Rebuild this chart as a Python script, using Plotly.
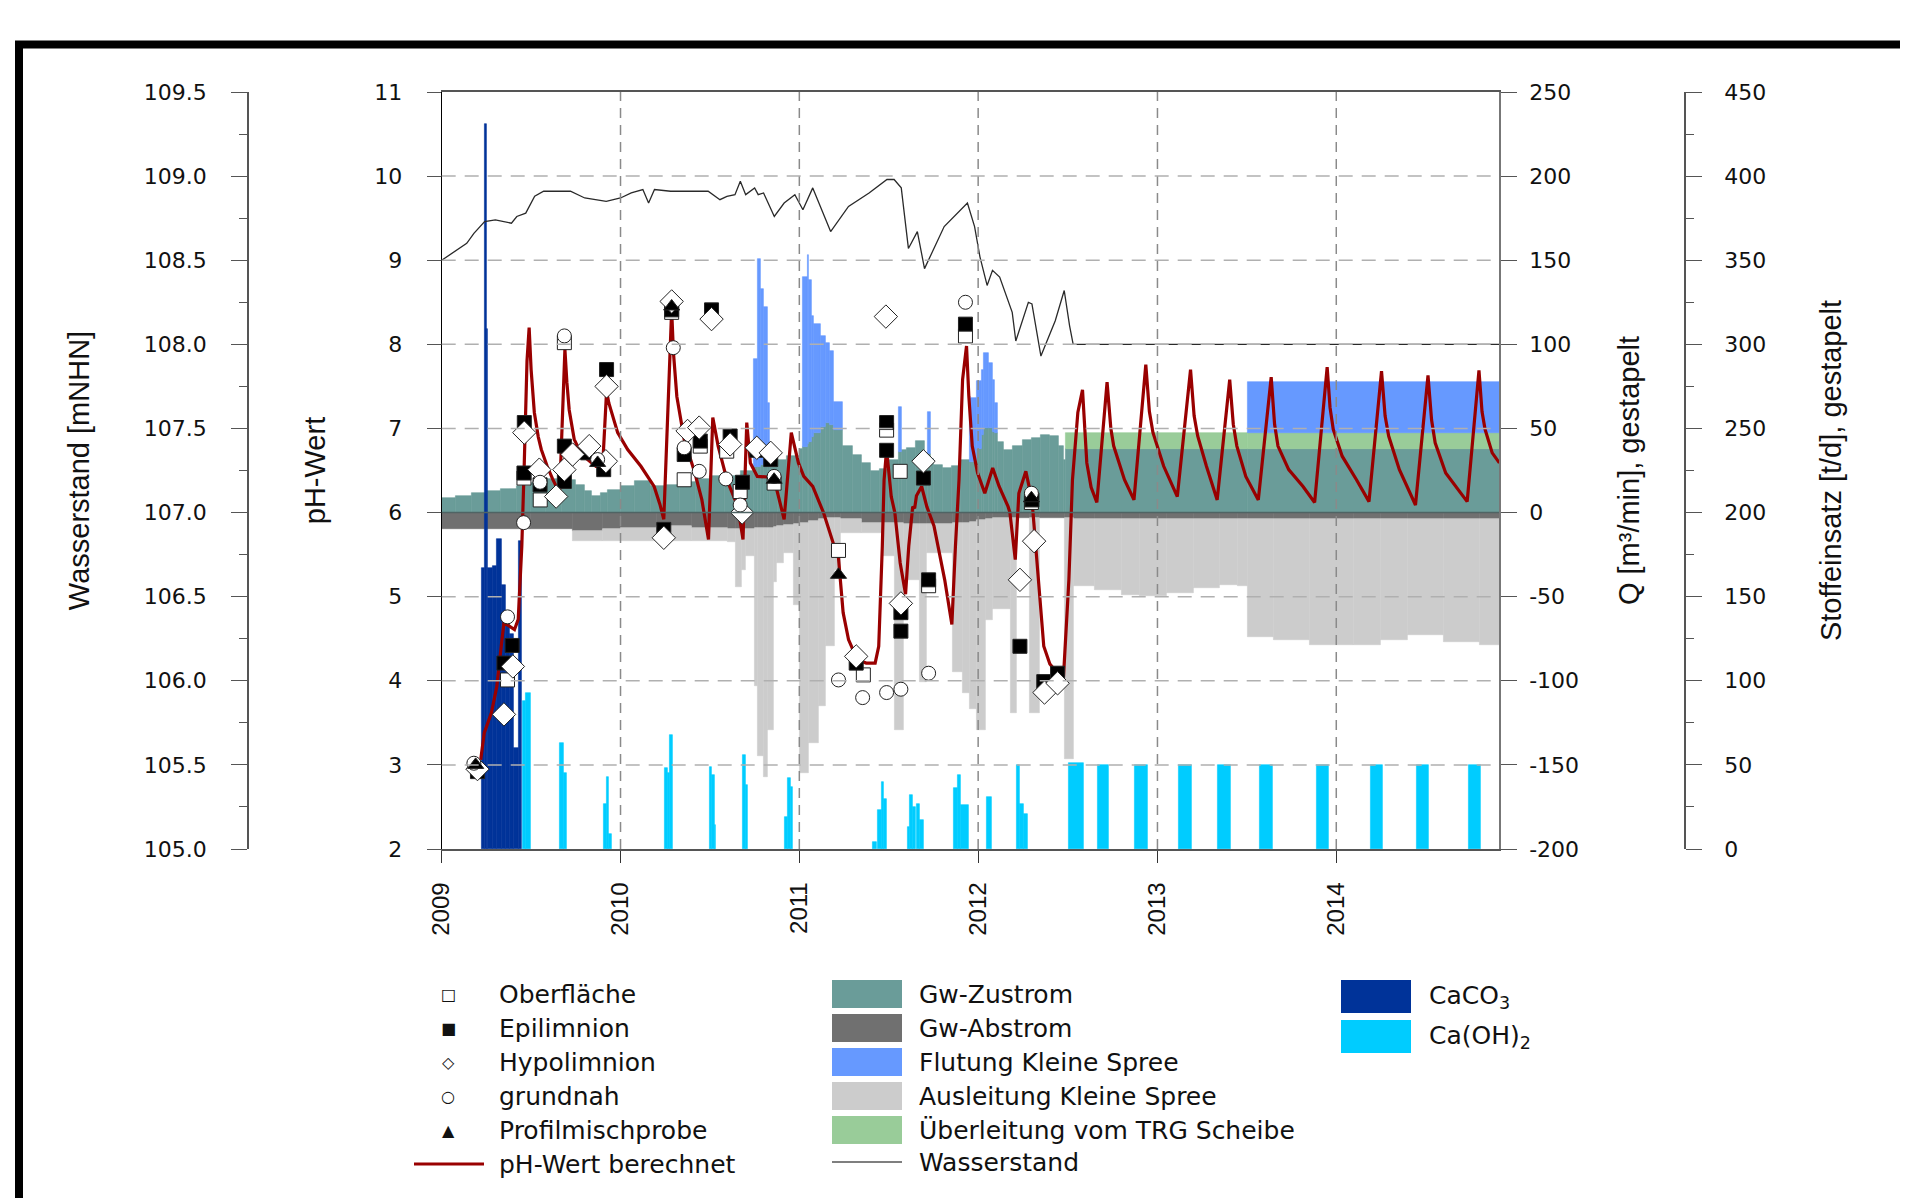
import datetime as dt
import plotly.graph_objects as go

# ---------------- data (decimal years) ----------------
T_END = 2014.92
years = [2009, 2010, 2011, 2012, 2013, 2014]

# Q, positive side (stacked): segments start at q_pos_t, end at next start
q_pos_t = [2009.00, 2009.08, 2009.17, 2009.25, 2009.33, 2009.42, 2009.50, 2009.58, 2009.67, 2009.75,
           2009.80, 2009.84, 2009.89, 2009.93, 2010.00, 2010.08, 2010.17, 2010.25, 2010.33, 2010.42,
           2010.50, 2010.58, 2010.67, 2010.745, 2010.765, 2010.785, 2010.80, 2010.825, 2010.835, 2010.88,
           2010.93, 2011.00, 2011.02, 2011.045, 2011.055, 2011.07, 2011.08, 2011.12, 2011.145, 2011.17,
           2011.19, 2011.24, 2011.30, 2011.35, 2011.40, 2011.45, 2011.50, 2011.555, 2011.57, 2011.60,
           2011.65, 2011.70, 2011.72, 2011.735, 2011.75, 2011.80, 2011.85, 2011.90, 2011.95, 2011.99,
           2012.02, 2012.03, 2012.06, 2012.08, 2012.09, 2012.11, 2012.14, 2012.19, 2012.25, 2012.30,
           2012.35, 2012.40, 2012.45, 2012.476, 2012.49, 2013.505]
gw_zustrom = [8.7, 10.0, 11.5, 12.7, 14.0, 16.0, 17.6, 20.0, 19.5, 16.5,
              13.0, 10.0, 11.5, 13.7, 15.6, 18.6, 16.0, 16.5, 18.0, 20.0,
              21.6, 22.0, 24.5, 27, 27, 28, 28, 29, 30, 31.5,
              33.5, 37.5, 39, 41, 42, 45, 47, 51, 53, 52,
              49, 39.4, 34.5, 29.5, 24.6, 25.6, 31.5, 36, 37, 38.4,
              42.4, 35.5, 35, 32, 28.5, 26.6, 27.5, 31.5, 30, 38,
              46, 50, 50, 48, 47, 42, 37, 39.4, 43.4, 44.4,
              46.4, 45.4, 39.4, 31.5, 37.5, 37.5]
ueberleitung = [0] * 74 + [10, 10]
flutung = [0] * 23 + [64, 124, 105, 94, 36, 0, 0,
                      0, 0, 101, 112, 96, 72, 65, 54, 48, 44,
                      17, 0, 0, 0, 0, 0, 0, 27, 0, 0,
                      0, 0, 25, 0, 0, 0, 0, 0, 38, 40,
                      39, 45, 39, 31, 18, 0, 0, 0, 0, 0,
                      0, 0, 0, 0, 0, 30]

# Q, negative side (stacked downwards)
q_neg_t = [2009.00, 2009.25, 2009.50, 2009.733, 2009.90, 2010.00, 2010.20, 2010.40, 2010.60, 2010.645,
           2010.675, 2010.70, 2010.75, 2010.765, 2010.80, 2010.825, 2010.855, 2010.875, 2010.915, 2010.97,
           2011.00, 2011.05, 2011.11, 2011.15, 2011.20, 2011.23, 2011.35, 2011.47, 2011.535, 2011.585,
           2011.675, 2011.715, 2011.855, 2011.915, 2011.95, 2011.99, 2012.04, 2012.08, 2012.18, 2012.215,
           2012.29, 2012.345, 2012.48, 2012.535, 2012.65, 2012.80, 2012.90, 2013.05, 2013.20, 2013.35,
           2013.45, 2013.505, 2013.65, 2013.85, 2014.10, 2014.25, 2014.40, 2014.60, 2014.80]
gw_abstrom = [10, 10, 9.5, 11, 10, 9, 8, 9, 10, 10,
              10, 9.5, 9, 9, 9, 9, 8.5, 8, 7.5, 7,
              6, 5, 4, 3.5, 3.2, 4, 6, 6, 6.5, 7,
              7, 7, 6, 6, 5.5, 4.5, 4, 3.5, 3.2, 3.2,
              3.2, 3.2, 3.5, 3.8, 3.8, 3.8, 3.8, 3.8, 3.8, 3.8,
              3.8, 3.8, 3.8, 3.8, 3.8, 3.8, 3.8, 3.8, 3.8]
ausleitung = [0, 0, 0, 6, 7, 8, 9, 8, 7.5, 34,
              24, 16.5, 94, 136, 148, 120, 33, 22, 16.5, 48,
              149, 132, 111, 76, 31, 8, 6, 20, 122.5, 33,
              94, 17, 89, 101, 111.5, 124.5, 60, 54, 116, 0,
              116, 0, 143, 40, 42, 45, 46, 44, 41, 39,
              40, 70, 72, 75, 75, 72, 69, 73, 75]

# Stoffeinsatz [t/d]
caco3_start = [2009.222, 2009.238, 2009.250, 2009.258, 2009.287, 2009.308, 2009.334, 2009.358, 2009.378, 2009.402, 2009.428]
caco3_end = [2009.238, 2009.250, 2009.258, 2009.287, 2009.308, 2009.334, 2009.358, 2009.378, 2009.402, 2009.428, 2009.448]
caco3 = [167, 431, 309, 167, 168, 184, 157, 140, 128, 60, 183]

caoh2_start = [2009.455, 2009.471, 2009.661, 2009.681, 2009.907, 2009.921, 2009.935, 2010.249, 2010.265, 2010.277,
               2010.496, 2010.511, 2010.525, 2010.685, 2010.699, 2010.919, 2010.935, 2010.949, 2011.410, 2011.439,
               2011.458, 2011.474, 2011.604, 2011.618, 2011.634, 2011.657, 2011.673, 2011.866, 2011.885, 2011.905,
               2012.047, 2012.216, 2012.233, 2012.255, 2012.506, 2012.668, 2012.875, 2013.120, 2013.339, 2013.574,
               2013.889, 2014.190, 2014.448, 2014.738]
caoh2_end = [2009.471, 2009.497, 2009.681, 2009.700, 2009.921, 2009.935, 2009.952, 2010.265, 2010.277, 2010.293,
             2010.511, 2010.525, 2010.535, 2010.699, 2010.713, 2010.935, 2010.949, 2010.962, 2011.430, 2011.458,
             2011.474, 2011.490, 2011.618, 2011.634, 2011.648, 2011.673, 2011.693, 2011.885, 2011.905, 2011.945,
             2012.076, 2012.233, 2012.255, 2012.277, 2012.586, 2012.730, 2012.945, 2013.193, 2013.410, 2013.644,
             2013.960, 2014.259, 2014.518, 2014.808]
caoh2 = [88, 93, 63, 45, 27, 43, 9, 48, 45, 68,
         49, 44, 14, 56, 38, 19, 42, 37, 4, 23,
         40, 30, 13, 32, 25, 27, 17, 36, 44, 26,
         31, 50, 27, 21, 51, 50, 50, 50, 50, 50,
         50, 50, 50, 50]

# Wasserstand [mNHN]
ws_t = [2009.00, 2009.08, 2009.14, 2009.18, 2009.24, 2009.30, 2009.39, 2009.42, 2009.47, 2009.52,
        2009.57, 2009.72, 2009.80, 2009.92, 2010.00, 2010.06, 2010.125, 2010.157, 2010.19, 2010.28,
        2010.49, 2010.556, 2010.595, 2010.64, 2010.67, 2010.70, 2010.75, 2010.77, 2010.80, 2010.86,
        2010.915, 2010.975, 2011.02, 2011.075, 2011.175, 2011.275, 2011.39, 2011.49, 2011.53, 2011.57,
        2011.61, 2011.66, 2011.70, 2011.81, 2011.94, 2011.98, 2012.01, 2012.05, 2012.08, 2012.12,
        2012.19, 2012.21, 2012.28, 2012.30, 2012.35, 2012.43, 2012.48, 2012.51, 2012.53, 2014.92]
ws = [108.50, 108.56, 108.60, 108.66, 108.73, 108.74, 108.72, 108.76, 108.78, 108.88,
      108.91, 108.91, 108.87, 108.85, 108.87, 108.90, 108.92, 108.84, 108.92, 108.91,
      108.91, 108.86, 108.88, 108.89, 108.97, 108.89, 108.93, 108.89, 108.90, 108.76,
      108.84, 108.89, 108.80, 108.93, 108.67, 108.82, 108.90, 108.98, 108.98, 108.93,
      108.57, 108.67, 108.45, 108.70, 108.84, 108.70, 108.52, 108.35, 108.44, 108.40,
      108.19, 108.02, 108.25, 108.24, 107.93, 108.14, 108.32, 108.11, 108.00, 108.00]

# pH-Wert berechnet
ph_calc_t = [2009.218, 2009.238, 2009.278, 2009.308, 2009.337, 2009.348, 2009.378, 2009.407, 2009.428, 2009.448,
             2009.462, 2009.477, 2009.489, 2009.500, 2009.518, 2009.540, 2009.557, 2009.590, 2009.620, 2009.650,
             2009.660, 2009.689, 2009.700, 2009.713, 2009.741, 2009.780, 2009.816, 2009.863, 2009.900, 2009.922,
             2009.935, 2009.946, 2009.984, 2010.040, 2010.114, 2010.188, 2010.220, 2010.242, 2010.286, 2010.296,
             2010.315, 2010.356, 2010.416, 2010.455, 2010.492, 2010.516, 2010.546, 2010.595, 2010.656, 2010.685,
             2010.706, 2010.726, 2010.765, 2010.845, 2010.874, 2010.915, 2010.955, 2010.995, 2011.025, 2011.075,
             2011.135, 2011.195, 2011.215, 2011.245, 2011.275, 2011.324, 2011.374, 2011.424, 2011.444, 2011.464,
             2011.474, 2011.488, 2011.514, 2011.534, 2011.564, 2011.594, 2011.612, 2011.634, 2011.645, 2011.655,
             2011.684, 2011.713, 2011.753, 2011.813, 2011.853, 2011.873, 2011.893, 2011.913, 2011.935, 2011.948,
             2011.967, 2011.997, 2012.037, 2012.081, 2012.117, 2012.167, 2012.177, 2012.207, 2012.227, 2012.266,
             2012.296, 2012.306, 2012.336, 2012.366, 2012.400, 2012.426, 2012.476, 2012.506, 2012.526, 2012.556,
             2012.582, 2012.606, 2012.630, 2012.662, 2012.719, 2012.740, 2012.756, 2012.816, 2012.869, 2012.935,
             2012.955, 2012.975, 2013.035, 2013.111, 2013.185, 2013.205, 2013.225, 2013.274, 2013.334, 2013.404,
             2013.424, 2013.444, 2013.494, 2013.564, 2013.636, 2013.655, 2013.674, 2013.734, 2013.814, 2013.879,
             2013.949, 2013.965, 2013.983, 2014.033, 2014.113, 2014.183, 2014.253, 2014.273, 2014.293, 2014.353,
             2014.443, 2014.513, 2014.533, 2014.553, 2014.612, 2014.732, 2014.798, 2014.815, 2014.832, 2014.872,
             2014.912]
ph_calc = [3.06, 3.38, 3.62, 3.93, 4.49, 4.69, 4.65, 4.61, 4.73, 5.60,
           6.60, 7.80, 8.20, 7.70, 7.19, 6.90, 6.75, 6.55, 6.40, 6.27,
           6.25, 7.94, 7.55, 7.22, 6.87, 6.70, 6.63, 6.55, 6.55, 7.44,
           7.30, 7.22, 6.95, 6.75, 6.55, 6.31, 6.10, 5.92, 8.41, 7.90,
           7.38, 6.87, 6.47, 6.15, 5.68, 7.13, 6.79, 6.39, 6.07, 5.68,
           7.07, 6.59, 6.43, 6.42, 6.27, 5.92, 6.95, 6.59, 6.43, 6.31,
           6.00, 5.60, 5.56, 4.81, 4.49, 4.25, 4.21, 4.21, 4.41, 5.60,
           6.39, 6.75, 6.19, 6.00, 5.40, 5.03, 5.60, 6.07, 6.05, 6.20,
           6.31, 6.07, 5.84, 5.20, 4.67, 5.60, 6.39, 7.58, 7.98, 7.38,
           6.79, 6.47, 6.23, 6.53, 6.31, 6.07, 6.00, 5.44, 6.23, 6.49,
           6.19, 6.00, 5.20, 4.41, 4.20, 4.13, 4.05, 5.20, 6.39, 7.19,
           7.46, 6.59, 6.30, 6.12, 7.55, 7.00, 6.79, 6.39, 6.15, 7.76,
           7.20, 6.95, 6.55, 6.19, 7.70, 7.15, 6.91, 6.55, 6.15, 7.58,
           7.05, 6.79, 6.43, 6.15, 7.61, 7.05, 6.79, 6.51, 6.31, 6.12,
           7.73, 7.25, 6.99, 6.67, 6.39, 6.13, 7.68, 7.15, 6.91, 6.51,
           6.09, 7.63, 7.10, 6.83, 6.47, 6.13, 7.69, 7.20, 6.99, 6.71,
           6.59]

# measured pH
ober_t = [2009.368, 2009.46, 2009.551, 2009.686, 2010.286, 2010.356, 2010.446, 2010.594, 2010.669, 2010.859,
          2011.219, 2011.358, 2011.488, 2011.564, 2011.723, 2011.929, 2012.297]
ober_ph = [4.01, 6.41, 6.15, 8.02, 8.38, 6.39, 6.79, 6.73, 6.25, 6.35,
           5.55, 4.07, 6.98, 6.49, 5.13, 8.10, 6.12]
epi_t = [2009.20, 2009.348, 2009.394, 2009.462, 2009.46, 2009.55, 2009.686, 2009.686, 2009.816, 2009.906,
         2009.922, 2010.242, 2010.286, 2010.356, 2010.446, 2010.509, 2010.613, 2010.682, 2010.762, 2010.84,
         2011.318, 2011.488, 2011.488, 2011.568, 2011.568, 2011.694, 2011.723, 2011.929, 2012.233, 2012.30,
         2012.366, 2012.443]
epi_ph = [2.92, 4.21, 4.42, 7.07, 6.47, 6.33, 6.79, 6.37, 6.71, 6.51,
          7.70, 5.80, 8.41, 6.69, 6.85, 8.41, 6.91, 6.36, 6.74, 6.63,
          4.21, 7.07, 6.74, 4.81, 4.59, 6.41, 5.20, 8.24, 4.41, 6.15,
          3.99, 4.09]
hypo_t = [2009.20, 2009.348, 2009.398, 2009.462, 2009.546, 2009.64, 2009.686, 2009.732, 2009.825, 2009.918,
          2009.922, 2010.242, 2010.286, 2010.509, 2010.375, 2010.44, 2010.613, 2010.68, 2010.762, 2010.84,
          2011.318, 2011.484, 2011.568, 2011.694, 2012.233, 2012.312, 2012.37, 2012.443]
hypo_ph = [2.95, 3.60, 4.17, 6.95, 6.51, 6.19, 6.51, 6.69, 6.79, 6.61,
           7.50, 5.70, 8.51, 8.30, 6.97, 7.01, 6.81, 6.00, 6.77, 6.71,
           4.29, 8.33, 4.92, 6.61, 5.20, 5.66, 3.86, 3.97]
grund_t = [2009.18, 2009.368, 2009.458, 2009.55, 2009.686, 2009.872, 2010.295, 2010.356, 2010.44, 2010.589,
           2010.669, 2010.859, 2011.219, 2011.354, 2011.488, 2011.568, 2011.723, 2011.929, 2012.297]
grund_ph = [3.02, 4.76, 5.88, 6.36, 8.10, 6.63, 7.96, 6.77, 6.49, 6.40,
            6.09, 6.43, 4.01, 3.80, 3.86, 3.90, 4.09, 8.50, 6.23]
profil_t = [2009.19, 2009.872, 2010.286, 2010.859, 2011.219, 2012.297]
profil_ph = [3.00, 6.59, 8.45, 6.39, 5.26, 6.17]

q_ticks = list(range(-200, 251, 50))
stoff_ticks = list(range(0, 451, 50))
ws_ticks = [105 + 0.5 * i for i in range(10)]
ph_ticks = list(range(2, 12))


# ---------------- helpers ----------------
def to_date(t):
    y = int(t)
    a = dt.datetime(y, 1, 1)
    b = dt.datetime(y + 1, 1, 1)
    return a + (b - a) * (t - y)


def seg_width(t0, t1):
    return (to_date(t1) - to_date(t0)).total_seconds() * 1000.0


def ends_of(starts):
    return starts[1:] + [T_END]


def nz(vals, sign=1):
    return [sign * v if v else None for v in vals]


C_ZU = '#6a9c99'
C_AB = '#707070'
C_FL = '#6699ff'
C_AUS = '#cccccc'
C_UE = '#99cc99'
C_CACO3 = '#003399'
C_CAOH = '#00ccff'
C_PH = '#990000'
C_WS = '#2a2a2a'

fig = go.Figure()

pos_x = [to_date(t) for t in q_pos_t]
pos_w = [seg_width(a, b) for a, b in zip(q_pos_t, ends_of(q_pos_t))]
neg_x = [to_date(t) for t in q_neg_t]
neg_w = [seg_width(a, b) for a, b in zip(q_neg_t, ends_of(q_neg_t))]


def qbar(name, x, w, y, color, yaxis='y'):
    return go.Bar(name=name, x=x, y=y, width=w, offset=0, yaxis=yaxis,
                  marker=dict(color=color, line=dict(color=color, width=0.6)),
                  showlegend=False)


fig.add_trace(qbar('Gw-Zustrom', pos_x, pos_w, gw_zustrom, C_ZU))
fig.add_trace(qbar('Überleitung vom TRG Scheibe', pos_x, pos_w, nz(ueberleitung), C_UE))
fig.add_trace(qbar('Flutung Kleine Spree', pos_x, pos_w, nz(flutung), C_FL))
fig.add_trace(qbar('Gw-Abstrom', neg_x, neg_w, nz(gw_abstrom, -1), C_AB))
fig.add_trace(qbar('Ausleitung Kleine Spree', neg_x, neg_w, nz(ausleitung, -1), C_AUS))

fig.add_trace(qbar('CaCO3', [to_date(t) for t in caco3_start],
                   [seg_width(a, b) for a, b in zip(caco3_start, caco3_end)], caco3, C_CACO3, 'y2'))
fig.add_trace(qbar('Ca(OH)2', [to_date(t) for t in caoh2_start],
                   [seg_width(a, b) for a, b in zip(caoh2_start, caoh2_end)], caoh2, C_CAOH, 'y2'))

fig.add_trace(go.Scatter(name='Wasserstand', x=[to_date(t) for t in ws_t], y=ws, yaxis='y3',
                         mode='lines', line=dict(color=C_WS, width=1.3), showlegend=False))
fig.add_trace(go.Scatter(name='pH-Wert berechnet', x=[to_date(t) for t in ph_calc_t], y=ph_calc,
                         yaxis='y4', mode='lines', line=dict(color=C_PH, width=3.2), showlegend=False))


def mk(name, t, v, symbol, fill, size):
    return go.Scatter(name=name, x=[to_date(a) for a in t], y=v, yaxis='y4', mode='markers',
                      marker=dict(symbol=symbol, size=size, color=fill,
                                  line=dict(color='#222222', width=1)),
                      showlegend=False)


fig.add_trace(mk('Oberfläche', ober_t, ober_ph, 'square', 'white', 14))
fig.add_trace(mk('Epilimnion', epi_t, epi_ph, 'square', 'black', 14))
fig.add_trace(mk('Hypolimnion', hypo_t, hypo_ph, 'diamond', 'white', 18))
fig.add_trace(mk('grundnah', grund_t, grund_ph, 'circle', 'white', 14))
fig.add_trace(mk('Profilmischprobe', profil_t, profil_ph, 'triangle-up', 'black', 14))

# ---------------- layout ----------------
TICKFONT = dict(family='DejaVu Sans', size=22, color='#111111')
TITLEFONT = dict(family='Liberation Sans', size=29, color='#111111')
AX = '#555555'

OFF = 8                                # page body margin of the html page
W, H = 1908 - OFF, 1198 - OFF
PL, PR, PT, PB = 248, 1685, 92, 849    # paper box in reference px


def fx(px):
    return (px - PL) / (PR - PL)


def fy(py):
    return (PB - py) / (PB - PT)


fig.update_layout(
    width=W, height=H,
    margin=dict(l=PL - OFF, r=W - (PR - OFF), t=PT - OFF, b=H - (PB - OFF), autoexpand=False),
    paper_bgcolor='white', plot_bgcolor='white',
    barmode='relative', bargap=0, showlegend=False,
    xaxis=dict(domain=[fx(441.7), fx(1499)], type='date',
               range=[to_date(2009.0), to_date(2014.91)],
               tickvals=[to_date(y) for y in years], ticktext=[str(y) for y in years],
               tickangle=-90, ticks='outside', ticklen=12, tickcolor='#333333',
               showline=True, linecolor=AX, linewidth=1.5, mirror=True,
               showgrid=False, zeroline=False,
               tickfont=dict(family='Liberation Sans', size=24, color='#111111'),
               ticklabelstandoff=10),
    yaxis=dict(range=[-200, 250], tickvals=q_ticks, ticktext=[str(v) for v in q_ticks],
               side='right', anchor='x',
               ticks='outside', ticklen=16, tickcolor=AX, showline=True, linecolor='#777777',
               linewidth=1.5, showgrid=False, zeroline=False, tickfont=TICKFONT,
               ticklabelstandoff=8,
               title=dict(text='Q [m³/min], gestapelt', font=TITLEFONT, standoff=41)),
    yaxis2=dict(range=[0, 450], tickvals=stoff_ticks, ticktext=[str(v) for v in stoff_ticks],
                overlaying='y', side='right',
                anchor='free', position=1.0, ticks='outside', ticklen=16, tickcolor=AX,
                minor=dict(dtick=25, ticklen=8, ticks='outside', tickcolor=AX),
                showline=True, linecolor=AX, linewidth=1.5, showgrid=False, zeroline=False,
                tickfont=TICKFONT, ticklabelstandoff=18,
                title=dict(text='Stoffeinsatz [t/d], gestapelt', font=TITLEFONT, standoff=55)),
    yaxis3=dict(range=[105, 109.5], tickvals=ws_ticks, ticktext=['%.1f' % v for v in ws_ticks],
                overlaying='y', side='left', anchor='free', position=0.0,
                ticks='outside', ticklen=16, tickcolor=AX,
                minor=dict(dtick=0.25, ticklen=8, ticks='outside', tickcolor=AX),
                showline=True, linecolor=AX, linewidth=1.5, showgrid=False, zeroline=False,
                tickfont=TICKFONT, ticklabelstandoff=20,
                title=dict(text='Wasserstand [mNHN]', font=TITLEFONT, standoff=45)),
    yaxis4=dict(range=[2, 11], tickvals=ph_ticks, ticktext=[str(v) for v in ph_ticks],
                overlaying='y', side='left', anchor='x',
                ticks='outside', ticklen=14, tickcolor=AX, showline=True, linecolor='#000000',
                linewidth=1.2, showgrid=False, zeroline=False, tickfont=TICKFONT,
                ticklabelstandoff=20,
                title=dict(text='pH-Wert', font=TITLEFONT, standoff=40)),
)

shapes = []
# gridlines above the bars
for y in years[1:]:
    shapes.append(dict(type='line', xref='x', yref='y domain', x0=to_date(y), x1=to_date(y), y0=0, y1=1,
                       line=dict(color='#8a8a8a', width=1.5, dash='10px,7px'), layer='above'))
for p in ph_ticks[1:-1]:
    if p == 6:
        continue
    shapes.append(dict(type='line', xref='x domain', yref='y4', x0=0, x1=1, y0=p, y1=p,
                       line=dict(color='#b0b0b0', width=1.5, dash='14px,9px'), layer='above'))
shapes.append(dict(type='line', xref='x domain', yref='y4', x0=0, x1=1, y0=6, y1=6,
                   line=dict(color='#4f6464', width=1.5), layer='above'))

# outer frame
shapes.append(dict(type='rect', xref='paper', yref='paper', x0=fx(19), x1=fx(1960), y0=fy(44.5), y1=fy(1260),
                   line=dict(color='black', width=8), fillcolor='rgba(0,0,0,0)', layer='above'))

annotations = []
LEGFONT = dict(family='DejaVu Sans', size=25, color='#111111')

col1 = [('□', 'Oberfläche'), ('■', 'Epilimnion'), ('◇', 'Hypolimnion'),
        ('○', 'grundnah'), ('▲', 'Profilmischprobe')]
rows = [994, 1028, 1062, 1096, 1130, 1164]
for (g, label), ry in zip(col1, rows):
    annotations.append(dict(xref='paper', yref='paper', x=fx(448), y=fy(ry), text=g, showarrow=False,
                            xanchor='center', yanchor='middle',
                            font=dict(family='DejaVu Sans', size=16, color='#111111')))
    annotations.append(dict(xref='paper', yref='paper', x=fx(497), y=fy(ry), text=label, showarrow=False,
                            xanchor='left', yanchor='middle', font=LEGFONT))
shapes.append(dict(type='line', xref='paper', yref='paper', x0=fx(414), x1=fx(484), y0=fy(1164), y1=fy(1164),
                   line=dict(color=C_PH, width=3)))
annotations.append(dict(xref='paper', yref='paper', x=fx(497), y=fy(1164), text='pH-Wert berechnet',
                        showarrow=False, xanchor='left', yanchor='middle', font=LEGFONT))

col2 = [(C_ZU, 'Gw-Zustrom'), (C_AB, 'Gw-Abstrom'), (C_FL, 'Flutung Kleine Spree'),
        (C_AUS, 'Ausleitung Kleine Spree'), (C_UE, 'Überleitung vom TRG Scheibe')]
for (c, label), ry in zip(col2, rows):
    shapes.append(dict(type='rect', xref='paper', yref='paper', x0=fx(832), x1=fx(902),
                       y0=fy(ry - 14), y1=fy(ry + 14), fillcolor=c, line=dict(width=0)))
    annotations.append(dict(xref='paper', yref='paper', x=fx(917), y=fy(ry), text=label, showarrow=False,
                            xanchor='left', yanchor='middle', font=LEGFONT))
shapes.append(dict(type='line', xref='paper', yref='paper', x0=fx(832), x1=fx(902), y0=fy(1162), y1=fy(1162),
                   line=dict(color='#555555', width=1.3)))
annotations.append(dict(xref='paper', yref='paper', x=fx(917), y=fy(1162), text='Wasserstand',
                        showarrow=False, xanchor='left', yanchor='middle', font=LEGFONT))

col3 = [(C_CACO3, 'CaCO<sub>3</sub>', 996.5), (C_CAOH, 'Ca(OH)<sub>2</sub>', 1036.5)]
for c, label, ry in col3:
    shapes.append(dict(type='rect', xref='paper', yref='paper', x0=fx(1341), x1=fx(1411),
                       y0=fy(ry - 16.5), y1=fy(ry + 16.5), fillcolor=c, line=dict(width=0)))
    annotations.append(dict(xref='paper', yref='paper', x=fx(1427), y=fy(ry), text=label, showarrow=False,
                            xanchor='left', yanchor='middle', font=LEGFONT))

fig.update_layout(shapes=shapes, annotations=annotations)

fig.write_html('out.html')
